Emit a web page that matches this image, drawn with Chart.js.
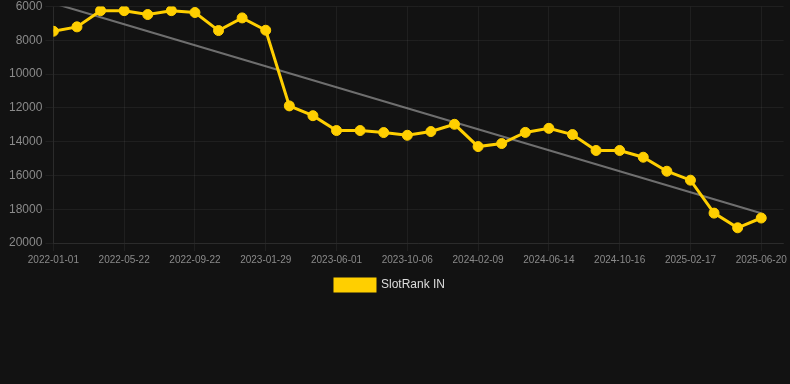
<!DOCTYPE html>
<html lang="en">

<head>
    <meta charset="UTF-8">
    <title>SlotRank IN</title>
    <style>
        html, body { margin: 0; padding: 0; background: #121212; }
        #wrap { width: 790px; height: 384px; }
    </style>
</head>

<body>
    <div id="wrap">
        <canvas id="rankChart"></canvas>
    </div>

    <script src="https://cdn.jsdelivr.net/npm/chart.js@4.4.0/dist/chart.umd.min.js"></script>

    <script>
        // labels under every third point
        const tickLabels = ['2022-01-01', '2022-05-22', '2022-09-22', '2023-01-29', '2023-06-01', '2023-10-06',
            '2024-02-09', '2024-06-14', '2024-10-16', '2025-02-17', '2025-06-20'];
        const tickEvery = 3;

        // rank values, one per point
        const rankValues = [7460, 7200, 6240, 6240, 6470, 6240, 6350, 7420, 6670, 7400,
            11880, 12460, 13340, 13340, 13460, 13620, 13400, 12970, 14290, 14110,
            13450, 13210, 13580, 14520, 14520, 14920, 15750, 16280, 18230, 19100, 18520];

        const yTicks = { min: 6000, max: 20000, step: 2000 };

        // least squares trend of the rank
        const n = rankValues.length;
        const meanX = (n - 1) / 2;
        const meanY = rankValues.reduce((a, b) => a + b, 0) / n;
        let sxy = 0, sxx = 0;
        rankValues.forEach((v, i) => { sxy += (i - meanX) * (v - meanY); sxx += (i - meanX) * (i - meanX); });
        const slope = sxy / sxx;
        const trendValues = rankValues.map((v, i) => meanY + slope * (i - meanX));

        const gold = '#ffcf00';
        const gridColor = 'rgba(255,255,255,0.055)';

        Chart.defaults.font.family = 'Arial, "Liberation Sans", Helvetica, sans-serif';

        // legend sits a bit left of the page centre
        const legendShift = {
            id: 'legendShift',
            afterLayout(chart) {
                chart.legend.left -= 8;
                chart.legend.right -= 8;
            }
        };

        const ctx = document.getElementById('rankChart').getContext('2d');
        const rankChart = new Chart(ctx, {
            type: 'line',
            data: {
                datasets: [{
                    label: 'SlotRank IN',
                    data: rankValues.map((v, i) => ({ x: i, y: v })),
                    borderColor: gold,
                    backgroundColor: gold,
                    borderWidth: 3,
                    pointRadius: 5,
                    pointBorderWidth: 1,
                    pointBackgroundColor: gold,
                    tension: 0
                }, {
                    label: 'trend',
                    data: trendValues.map((v, i) => ({ x: i, y: v })),
                    borderColor: 'rgba(150,150,150,0.7)',
                    borderWidth: 2,
                    pointRadius: 0,
                    tension: 0
                }]
            },
            plugins: [legendShift],
            options: {
                responsive: true,
                maintainAspectRatio: false,
                animation: false,
                layout: { padding: { left: 6, right: 0, top: 0, bottom: 83 } },
                plugins: {
                    tooltip: { enabled: false },
                    legend: {
                        position: 'bottom',
                        labels: {
                            color: '#dddddd',
                            font: { size: 12 },
                            filter: item => item.datasetIndex === 0
                        }
                    }
                },
                scales: {
                    x: {
                        type: 'linear',
                        min: 0,
                        max: 30.95,
                        grid: { color: gridColor },
                        border: { color: gridColor },
                        ticks: {
                            stepSize: tickEvery,
                            includeBounds: false,
                            color: '#8a8a8a',
                            font: { size: 10 },
                            maxRotation: 0,
                            autoSkip: false,
                            callback: (value) => {
                                if (value % tickEvery !== 0) return null;
                                return tickLabels[value / tickEvery];
                            }
                        }
                    },
                    y: {
                        reverse: true,
                        min: yTicks.min,
                        max: yTicks.max,
                        grid: { color: gridColor },
                        border: { color: gridColor },
                        ticks: {
                            stepSize: yTicks.step,
                            color: '#8a8a8a',
                            font: { size: 12, lineHeight: 0.6 },
                            callback: (value) => String(value)
                        }
                    }
                }
            }
        });
    </script>
</body>

</html>
